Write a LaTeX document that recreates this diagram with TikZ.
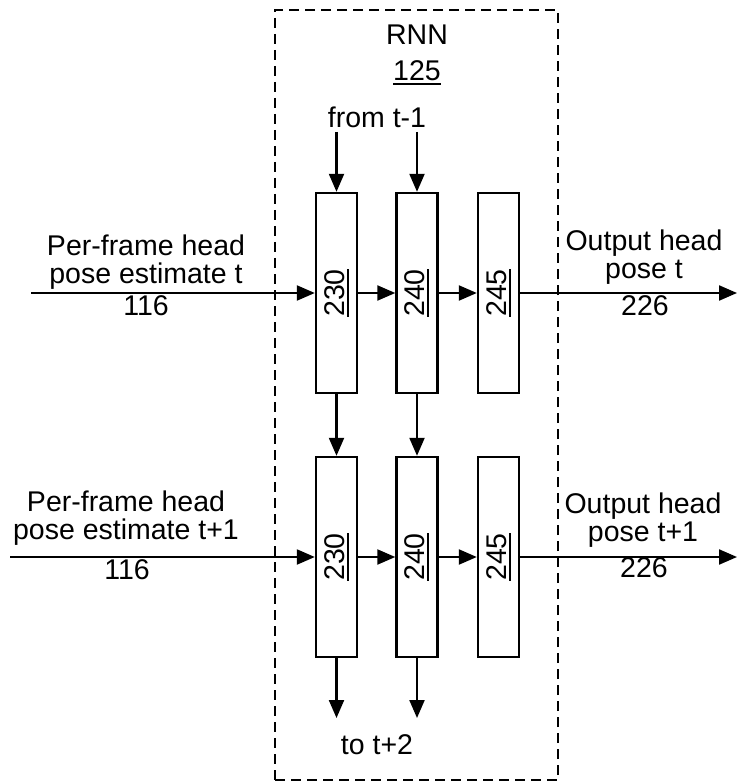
\documentclass[tikz,border=0pt]{standalone}
\usepackage{fontspec}
\setmainfont{Liberation Sans}
\usetikzlibrary{arrows.meta}

\newcommand{\refnum}[1]{\vtop{\hbox{#1}\kern2.5pt\hrule height 2pt}}

\tikzset{
  layer/.style={draw, line width=2.4pt, minimum width=41pt, minimum height=200pt, inner sep=0pt,
    font=\fontsize{28.5}{28}\selectfont},
  rnnbox/.style={draw, line width=2.8pt, dash pattern=on 10pt off 6pt,
    minimum width=283pt, minimum height=770pt, inner sep=0pt},
  txt/.style={inner sep=0pt, align=center, font=\fontsize{28.5}{28}\selectfont},
  flow/.style={->, line width=2.2pt},
}

\begin{document}
\begin{tikzpicture}[x=1pt, y=-1pt, >={Triangle[length=18pt,width=15pt]}]
    \useasboundingbox (0,0) rectangle (738,783);

    % the RNN frame
    \node[rnnbox] (rnn) at (416.5,395) {};
    \node[txt] (title) at (417,35) {RNN};
    \node[txt] (num) at (417,73) {\refnum{125}};

    % cells at time t
    \node[layer] (a1) at (336.5,293) {\rotatebox{90}{\refnum{230}}};
    \node[layer] (b1) at (417,293) {\rotatebox{90}{\refnum{240}}};
    \node[layer] (c1) at (498.5,293) {\rotatebox{90}{\refnum{245}}};
    % cells at time t+1
    \node[layer] (a2) at (336.5,557) {\rotatebox{90}{\refnum{230}}};
    \node[layer] (b2) at (417,557) {\rotatebox{90}{\refnum{240}}};
    \node[layer] (c2) at (498.5,557) {\rotatebox{90}{\refnum{245}}};

    % state in and out
    \node[txt] (from) at (377,117) {from t-1};
    \coordinate (fa) at (336.5,132);
    \coordinate (fb) at (417,132);
    \node[txt] (to) at (377,745) {to t+2};
    \coordinate (ta) at (336.5,718);
    \coordinate (tb) at (417,718);

    \draw[flow] (fa) -- (a1);
    \draw[flow] (fb) -- (b1);
    \draw[flow] (a1) -- (b1);
    \draw[flow] (b1) -- (c1);
    \draw[flow] (a1) -- (a2);
    \draw[flow] (b1) -- (b2);
    \draw[flow] (a2) -- (b2);
    \draw[flow] (b2) -- (c2);
    \draw[flow] (a2) -- (ta);
    \draw[flow] (b2) -- (tb);

    % inputs
    \coordinate (in1) at (31,293);
    \coordinate (in2) at (10,557);
    \draw[flow] (in1) -- (a1);
    \draw[flow] (in2) -- (a2);
    \node[txt] (inlbl1) at (146,262) {Per-frame head\\pose estimate t};
    \node[txt] (inref1) at (146,306) {116};
    \node[txt] (inlbl2) at (126,518) {Per-frame head\\pose estimate t+1};
    \node[txt] (inref2) at (127,570) {116};

    % outputs
    \coordinate (out1) at (737,293);
    \coordinate (out2) at (737,557);
    \draw[flow] (c1) -- (out1);
    \draw[flow] (c2) -- (out2);
    \node[txt] (outlbl1) at (644,257) {Output head\\pose t};
    \node[txt] (outref1) at (645,306) {226};
    \node[txt] (outlbl2) at (643,520) {Output head\\pose t+1};
    \node[txt] (outref2) at (644,568) {226};
\end{tikzpicture}
\end{document}
